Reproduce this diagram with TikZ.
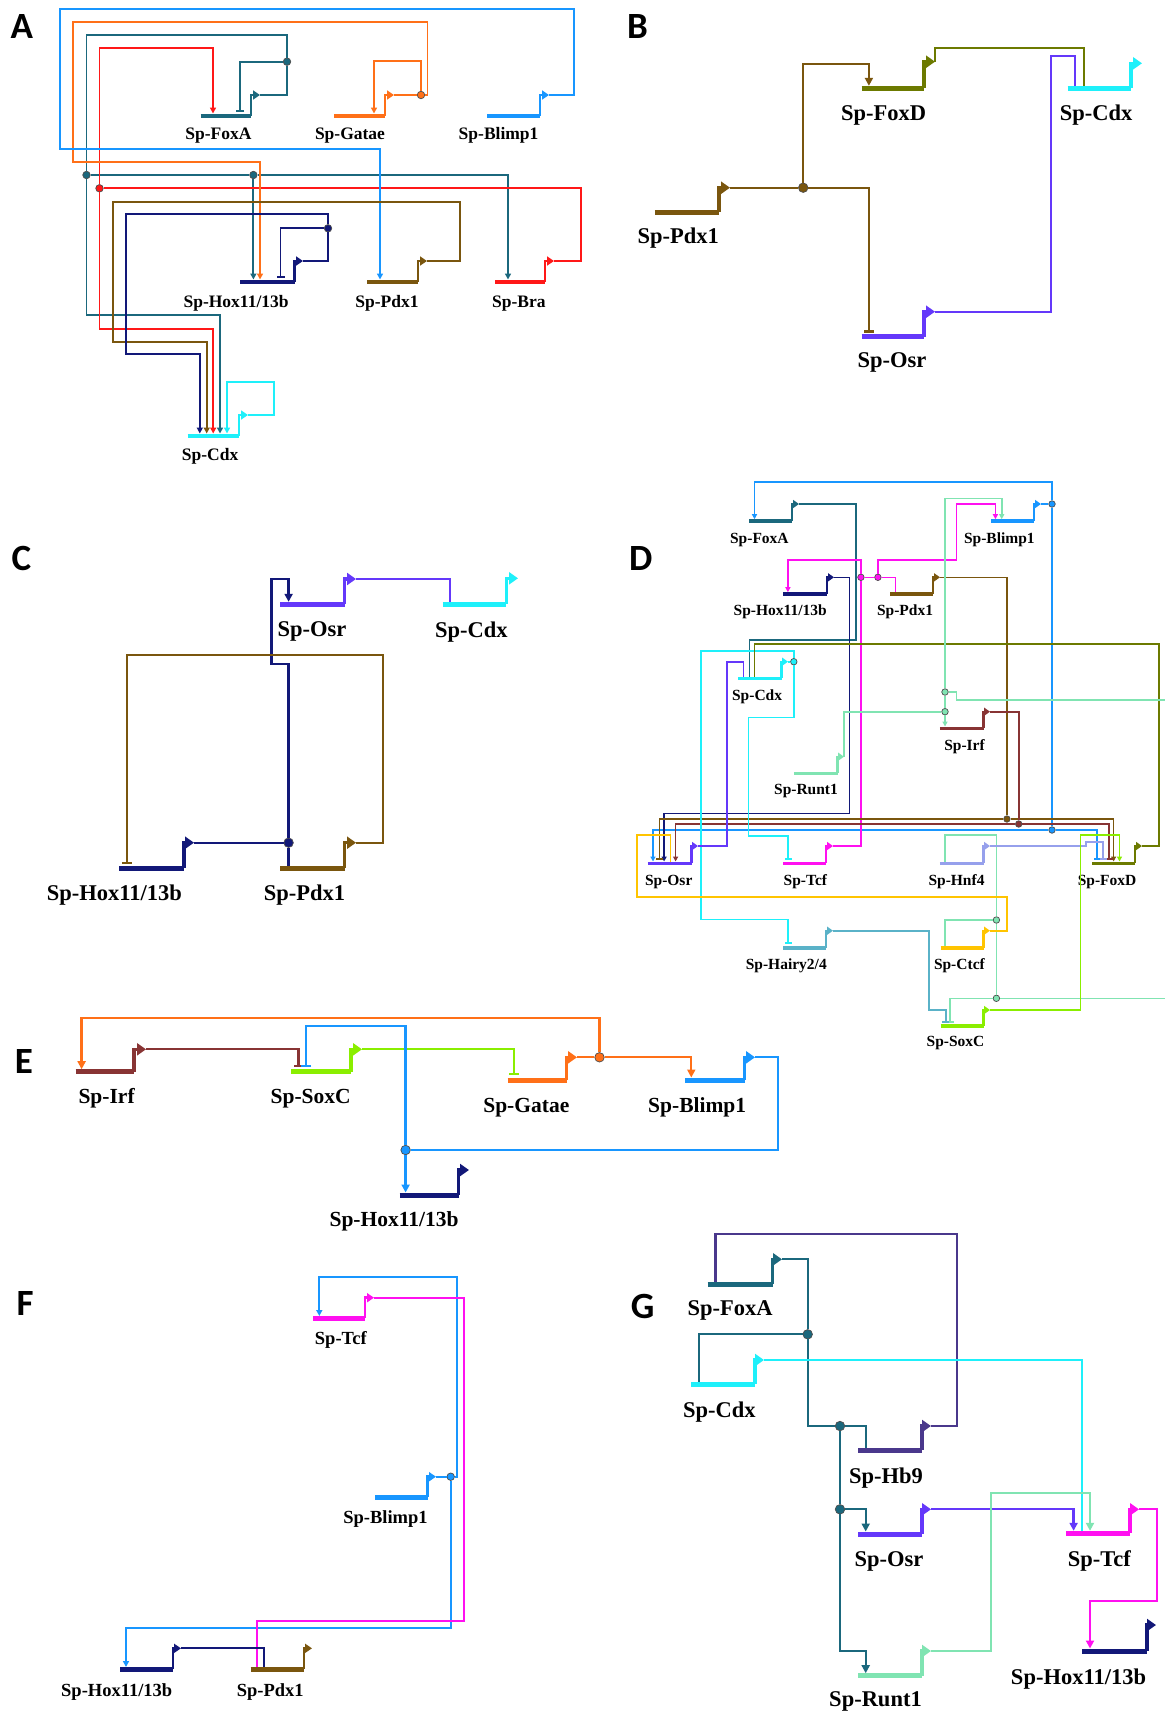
\documentclass[tikz,border=0pt]{standalone}
\usepackage{fontspec}
\setmainfont{Liberation Serif}
\newfontfamily\panelfont{Carlito}
\usetikzlibrary{arrows.meta,calc,positioning}

\definecolor{cFoxA}{RGB}{27,104,125}
\definecolor{cGatae}{RGB}{255,112,24}
\definecolor{cBlimp}{RGB}{24,150,255}
\definecolor{cHox}{RGB}{18,24,120}
\definecolor{cPdx}{RGB}{122,86,14}
\definecolor{cBra}{RGB}{255,24,24}
\definecolor{cCdx}{RGB}{30,240,250}
\definecolor{cFoxD}{RGB}{108,122,0}
\definecolor{cOsr}{RGB}{100,56,250}
\definecolor{cTcf}{RGB}{255,16,240}
\definecolor{cRunt}{RGB}{128,228,178}
\definecolor{cIrf}{RGB}{136,52,52}
\definecolor{cHnf}{RGB}{150,160,236}
\definecolor{cCtcf}{RGB}{255,196,0}
\definecolor{cHairy}{RGB}{90,178,200}
\definecolor{cSoxC}{RGB}{138,238,0}
\definecolor{cHb}{RGB}{74,56,140}

\tikzset{
  bar/.style={line width=4.2pt},
  prom/.style={line width=2.8pt,line join=miter,-{Triangle[length=7pt,width=9pt]}},
  link/.style={line width=1.9pt},
  act/.style={-{Triangle[length=6pt,width=6pt]}},
  rep/.style={-{Bar[width=8pt]}},
  dot/.style={circle,fill=#1,draw=black!70,line width=0.7pt,inner sep=0pt,minimum size=7.5pt},
  lab/.style={font=\bfseries\fontsize{17.5}{18}\selectfont,inner sep=0pt},
  panel/.style={font=\panelfont\bfseries\fontsize{37}{37}\selectfont,inner sep=0pt},
  big/.style={
    bar/.append style={line width=5pt},
    prom/.append style={line width=3.4pt,-{Triangle[length=9pt,width=12pt]}},
    link/.append style={line width=2.3pt},
    act/.append style={-{Triangle[length=8pt,width=8pt]}},
    rep/.append style={-{Bar[width=10pt]}},
    dot/.append style={minimum size=9.5pt}},
  small/.style={
    bar/.append style={line width=3.6pt},
    prom/.append style={line width=2.4pt,-{Triangle[length=6pt,width=8pt]}},
    link/.append style={line width=1.6pt},
    act/.append style={-{Triangle[length=5pt,width=5pt]}},
    rep/.append style={-{Bar[width=7pt]}},
    dot/.append style={minimum size=6.5pt}},
}

% gene: name, colour, bar left, bar right, bar y, promoter top, arrow tip x, label, label centre
\newcommand{\gene}[9]{%
  \draw[bar,#2] (#3,#5) -- (#4,#5);
  \draw[prom,#2] (#4,#5) -- (#4,#6) -- (#7,#6) coordinate (#1-out);
  \node[lab] (#1) at (#9) {#8};
}

\begin{document}
\begin{tikzpicture}[x=1pt,y=-1pt]
\useasboundingbox (0,0) rectangle (1165,1716);
\fill[white] (0,0) rectangle (1165,1716);

% panel A
\begin{scope}
\node[panel] (A) at (21.8,26.7) {A};
\gene{a-foxa}{cFoxA}{200.5}{251}{115.7}{95}{260}{Sp-FoxA}{218.5,135.7}
\gene{a-gatae}{cGatae}{334}{385}{115.7}{95}{394}{Sp-Gatae}{350,135.7}
\gene{a-blimp}{cBlimp}{487}{540}{115.7}{95}{549}{Sp-Blimp1}{498.6,135.7}
\gene{a-hox}{cHox}{240}{294.5}{281.7}{261}{303}{Sp-Hox11/13b}{236.1,303.3}
\gene{a-pdx}{cPdx}{367}{418}{281.7}{261}{427}{Sp-Pdx1}{386.9,303.3}
\gene{a-bra}{cBra}{495}{545}{281.7}{261}{554}{Sp-Bra}{518.8,303.3}
\gene{a-cdx}{cCdx}{187.5}{239}{435.7}{415}{248}{Sp-Cdx}{210.1,456.7}
\node[dot=cFoxA] (a-j1) at (287,61.7) {};
\node[dot=cFoxA] (a-j2) at (86.5,175) {};
\node[dot=cFoxA] (a-j3) at (253.4,175) {};
\node[dot=cBra] (a-j4) at (99.5,188.3) {};
\node[dot=cGatae] (a-j5) at (421,95) {};
\node[dot=cHox] (a-j6) at (328,228.3) {};
\draw[link,cFoxA] (a-foxa-out) -| (a-j1);
\draw[link,cFoxA,rep] (a-j1) -| (240,111.5);
\draw[link,cFoxA] (a-j1) |- (86.5,35) -- (a-j2);
\draw[link,cFoxA] (a-j2) -- (a-j3);
\draw[link,cFoxA,act] (a-j3) -- (253.4,279.5);
\draw[link,cFoxA,act] (a-j3) -| (508,279.5);
\draw[link,cFoxA,act] (a-j2) |- (220,315) -- (220,433.5);
\draw[link,cBra] (a-bra-out) -| (581,188.3) -- (a-j4);
\draw[link,cBra,act] (a-j4) |- (213,48.3) -- (213,113.5);
\draw[link,cBra,act] (a-j4) |- (213.2,329) -- (213.2,433.5);
\draw[link,cGatae] (a-gatae-out) -- (a-j5);
\draw[link,cGatae,act] (a-j5) |- (374,61) -- (374,113.5);
\draw[link,cGatae,act] (a-j5) -| (427.5,21.7) -| (72.7,162.3) -| (260,279.5);
\draw[link,cBlimp,act] (a-blimp-out) -| (574,9) -| (60,149) -| (380,279.5);
\draw[link,cPdx,act] (a-pdx-out) -| (460,201.7) -| (113,342.3) -| (206.7,433.5);
\draw[link,cHox] (a-hox-out) -| (a-j6);
\draw[link,cHox,rep] (a-j6) -| (280.5,278);
\draw[link,cHox,act] (a-j6) |- (126.3,214.3) |- (199.8,354.3) -- (199.8,433.5);
\draw[link,cCdx,act] (a-cdx-out) -| (273.6,382.3) -| (227,433.5);
\end{scope}

% panel B
\begin{scope}[big,lab/.append style={font=\bfseries\fontsize{22.5}{23}\selectfont}]
\node[panel] (B) at (637.4,26.7) {B};
\gene{b-foxd}{cFoxD}{861.6}{924}{88.3}{61.7}{935}{Sp-FoxD}{883.7,115}
\gene{b-cdx}{cCdx}{1067.7}{1131}{88.3}{63.3}{1142}{Sp-Cdx}{1096.2,115}
\gene{b-pdx}{cPdx}{654.8}{719}{212.3}{187.7}{730}{Sp-Pdx1}{678.2,238.3}
\gene{b-osr}{cOsr}{861.6}{924}{336.7}{311.7}{935}{Sp-Osr}{892,362.7}
\node[dot=cPdx] (b-j1) at (803.2,187.7) {};
\draw[link,cPdx] (b-pdx-out) -- (b-j1);
\draw[link,cPdx,act] (b-j1) |- (868.9,64) -- (868.9,85.8);
\draw[link,cPdx,rep] (b-j1) -| (868.9,332.5);
\draw[link,cFoxD] (b-foxd-out) |- (1084,47.7) -- (1084,86);
\draw[link,cOsr] (b-osr-out) -| (1051,55.7) -| (1075.3,86);
\end{scope}

% panel C
\begin{scope}[big,lab/.append style={font=\bfseries\fontsize{22.5}{23}\selectfont}]
\node[panel] (C) at (21.4,558.3) {C};
\gene{c-osr}{cOsr}{280.4}{344.6}{604.3}{579}{356}{Sp-Osr}{312,631.7}
\gene{c-cdx}{cCdx}{442.9}{506.4}{604.3}{578.3}{518}{Sp-Cdx}{471.4,631.7}
\gene{c-hox}{cHox}{119}{184}{868.3}{842.7}{194}{Sp-Hox11/13b}{114.3,895}
\gene{c-pdx}{cPdx}{280.4}{344.6}{868.3}{842.7}{356}{Sp-Pdx1}{304.5,895}
\node[dot=cHox] (c-j1) at (288.6,842.7) {};
\draw[link,cOsr] (c-osr-out) -| (450,602);
\draw[link,cHox] (c-hox-out) -- (c-j1);
\draw[link,cHox] (c-j1) -- (288.6,866);
\draw[link,cHox,act] (c-j1) |- (271.4,664) |- (288.6,579) -- (288.6,601.8);
\draw[link,cPdx,rep] (c-pdx-out) -| (382.9,655) -| (126.8,864);
\end{scope}

% panel D
\begin{scope}[small,lab/.append style={font=\bfseries\fontsize{15.5}{16}\selectfont}]
\node[panel] (D) at (640.9,558.3) {D};
\gene{d-foxa}{cFoxA}{749.3}{792}{521}{504}{799}{Sp-FoxA}{759.4,540}
\gene{d-blimp}{cBlimp}{991.2}{1034}{521}{504}{1041}{Sp-Blimp1}{999.4,540}
\gene{d-hox}{cHox}{783.4}{827}{594}{577.3}{834}{Sp-Hox11/13b}{780.2,611.7}
\gene{d-pdx}{cPdx}{890.4}{933}{594}{577.3}{940}{Sp-Pdx1}{905,611.7}
\gene{d-cdx}{cCdx}{738.2}{781.5}{678.3}{661.7}{788}{Sp-Cdx}{757.1,696.7}
\gene{d-irf}{cIrf}{939.8}{983.5}{728.3}{711.7}{990}{Sp-Irf}{964.5,746.7}
\gene{d-runt}{cRunt}{793.8}{837.5}{773.3}{756.7}{844}{Sp-Runt1}{806,790.7}
\gene{d-osr}{cOsr}{647.8}{691.5}{863.3}{846}{698}{Sp-Osr}{668.7,881.7}
\gene{d-tcf}{cTcf}{783.4}{826}{863.3}{846}{833}{Sp-Tcf}{805.4,881.7}
\gene{d-hnf}{cHnf}{939.8}{983.5}{863.3}{846}{990}{Sp-Hnf4}{956.5,881.7}
\gene{d-foxd}{cFoxD}{1092}{1135}{863.3}{846}{1142}{Sp-FoxD}{1107.1,881.7}
\gene{d-hairy}{cHairy}{783.4}{826}{947.7}{930.7}{833}{Sp-Hairy2/4}{786.3,966}
\gene{d-ctcf}{cCtcf}{940.5}{983.5}{947.7}{930.7}{990}{Sp-Ctcf}{959.4,966}
\gene{d-soxc}{cSoxC}{940.5}{983.5}{1026}{1010}{990}{Sp-SoxC}{955.5,1043.3}
\node[dot=cBlimp] (d-jb1) at (1052,504) {};
\node[dot=cBlimp] (d-jb2) at (1052,830) {};
\node[dot=cTcf] (d-jm1) at (860.9,577.3) {};
\node[dot=cTcf] (d-jm2) at (877.9,577.3) {};
\node[dot=cPdx] (d-jp) at (1006.9,819) {};
\node[dot=cIrf] (d-ji) at (1018.7,824) {};
\node[dot=cCdx] (d-jc) at (793.8,661.7) {};
\node[dot=cRunt] (d-jr1) at (945,711.7) {};
\node[dot=cRunt] (d-jr2) at (945,692) {};
\node[dot=cRunt] (d-jr3) at (996.4,998.3) {};
\node[dot=cRunt] (d-jr4) at (996.4,920) {};
\coordinate (d-east1) at (1165,700);
\coordinate (d-east2) at (1165,998.3);
\draw[link,cBlimp] (d-blimp-out) -- (d-jb1);
\draw[link,cBlimp,act] (d-jb1) |- (754.5,481.7) -- (754.5,519.2);
\draw[link,cBlimp] (d-jb1) -- (d-jb2);
\draw[link,cBlimp,act] (d-jb2) -| (653,861.5);
\draw[link,cBlimp,rep] (d-jb2) -| (1097,859.5);
\draw[link,cFoxA] (d-foxa-out) -| (855.7,640) -| (749.3,676.5);
\draw[link,cHox,act] (d-hox-out) -| (849.4,813.3) -| (664.1,861.5);
\draw[link,cTcf] (d-tcf-out) -| (d-jm1);
\draw[link,cTcf,act] (d-jm1) |- (787.9,560) -- (787.9,592.2);
\draw[link,cTcf] (d-jm1) -- (d-jm2);
\draw[link,cTcf,act] (d-jm2) |- (956.5,560) |- (995.4,504) -- (995.4,519.2);
\draw[link,cTcf] (d-jm2) -| (895.6,592.2);
\draw[link,cPdx] (d-pdx-out) -| (d-jp);
\draw[link,cPdx,rep] (d-jp) -| (659.3,859.5);
\draw[link,cPdx,act] (d-jp) -| (1113.6,861.5);
\draw[link,cIrf] (d-irf-out) -| (d-ji);
\draw[link,cIrf,act] (d-ji) -| (675.6,861.5);
\draw[link,cIrf,rep] (d-ji) -| (1109,859.5);
\draw[link,cCdx] (d-cdx-out) -- (d-jc);
\draw[link,cCdx,rep] (d-jc) |- (701,650.7) |- (788.2,919.3) -- (788.2,944);
\draw[link,cCdx,rep] (d-jc) |- (748.6,717.3) |- (788.2,836) -- (788.2,859.5);
\draw[link,cOsr] (d-osr-out) -| (726.7,661.7) -| (743.4,676.5);
\draw[link,cFoxD] (d-foxd-out) -| (1158.8,644) -| (754.5,676.5);
\draw[link,cRunt] (d-runt-out) |- (d-jr1);
\draw[link,cRunt,act] (d-jr1) -- (945,726.5);
\draw[link,cRunt] (d-jr1) -- (d-jr2);
\draw[link,cRunt,act] (d-jr2) |- (1001.7,498.3) -- (1001.7,519.2);
\draw[link,cRunt] (d-jr2) -| (956.5,700) -- (d-east1);
\draw[link,cRunt] (d-east2) -- (d-jr3);
\draw[link,cRunt,rep] (d-jr3) -| (950.2,1022.5);
\draw[link,cRunt] (d-jr3) -- (d-jr4);
\draw[link,cRunt] (d-jr4) -| (945,946);
\draw[link,cRunt] (d-jr4) |- (945,835) -- (945,861.5);
\draw[link,cHnf,rep] (d-hnf-out) -| (1085.8,841.7) -| (1103.1,859.5);
\draw[link,cSoxC,act] (d-soxc-out) -| (1080.6,835) -| (1119.5,861.5);
\draw[link,cCtcf] (d-ctcf-out) -| (1006.9,896.7) -| (636.7,835) -| (670.4,861.5);
\draw[link,cHairy,rep] (d-hairy-out) -| (928.7,1010) -| (945.7,1022.5);
\end{scope}

% panel E
\begin{scope}[big,lab/.append style={font=\bfseries\fontsize{21.5}{22}\selectfont}]
\node[panel] (E) at (24,1061.7) {E};
\gene{e-irf}{cIrf}{75.5}{134}{1071.7}{1049.3}{146}{Sp-Irf}{106.6,1098.3}
\gene{e-soxc}{cSoxC}{290.8}{351}{1071.7}{1049.3}{362}{Sp-SoxC}{310.7,1098.3}
\gene{e-gatae}{cGatae}{507.7}{566.5}{1080}{1057.3}{577}{Sp-Gatae}{526.3,1107.3}
\gene{e-blimp}{cBlimp}{685.2}{744.5}{1080}{1057.3}{755}{Sp-Blimp1}{697.2,1107.3}
\gene{e-hox}{cHox}{399.5}{458.5}{1195}{1170}{469}{Sp-Hox11/13b}{394.1,1221.7}
\node[dot=cGatae] (e-jg) at (599.5,1057.3) {};
\node[dot=cBlimp] (e-jb) at (405.6,1150) {};
\draw[link,cIrf,rep] (e-irf-out) -| (298.5,1067);
\draw[link,cSoxC,rep] (e-soxc-out) -| (513.8,1075.3);
\draw[link,cGatae] (e-gatae-out) -- (e-jg);
\draw[link,cGatae,act] (e-jg) |- (81.6,1018.3) -- (81.6,1069.2);
\draw[link,cGatae,act] (e-jg) -| (691.3,1077.5);
\draw[link,cBlimp] (e-blimp-out) -| (778,1150) -- (e-jb);
\draw[link,cBlimp,rep] (e-jb) |- (306.1,1026) -- (306.1,1067);
\draw[link,cBlimp,act] (e-jb) -- (405.6,1192.5);
\end{scope}

% panel F
\begin{scope}[lab/.append style={font=\bfseries\fontsize{18.5}{19}\selectfont},bar/.append style={line width=4.6pt},link/.append style={line width=2pt}]
\node[panel] (F) at (25,1303.3) {F};
\gene{f-tcf}{cTcf}{313.3}{365}{1318.3}{1297.7}{374}{Sp-Tcf}{340.8,1340}
\gene{f-blimp}{cBlimp}{375}{427.5}{1497.3}{1476.7}{436}{Sp-Blimp1}{385.5,1519.3}
\gene{f-hox}{cHox}{120}{173}{1669.3}{1648.3}{181}{Sp-Hox11/13b}{116.7,1691.7}
\gene{f-pdx}{cPdx}{250.7}{304}{1669.3}{1648.3}{312}{Sp-Pdx1}{270.3,1691.7}
\node[dot=cBlimp] (f-jb) at (450.7,1476.7) {};
\draw[link,cBlimp] (f-blimp-out) -- (f-jb);
\draw[link,cBlimp,act] (f-jb) -- (457.3,1476.7) |- (319.3,1276.7) -- (319.3,1316);
\draw[link,cBlimp,act] (f-jb) |- (126,1628.3) -- (126,1667);
\draw[link,cTcf] (f-tcf-out) -| (464.3,1620.7) -| (257.3,1667);
\draw[link,cHox] (f-hox-out) -| (264.3,1667);
\end{scope}

% panel G
\begin{scope}[big,lab/.append style={font=\bfseries\fontsize{22.5}{23}\selectfont}]
\node[panel] (G) at (642.6,1306) {G};
\gene{g-foxa}{cFoxA}{707.6}{772.5}{1284.3}{1259.3}{782}{Sp-FoxA}{730.2,1310.7}
\gene{g-cdx}{cCdx}{691.3}{755}{1384.3}{1360}{764}{Sp-Cdx}{719.4,1411.7}
\gene{g-hb}{cHb}{858.1}{922}{1450}{1426}{931}{Sp-Hb9}{885.9,1477.7}
\gene{g-osr}{cOsr}{858.1}{922}{1534}{1509.3}{931}{Sp-Osr}{888.9,1561}
\gene{g-tcf}{cTcf}{1066}{1130}{1533.3}{1509.3}{1139}{Sp-Tcf}{1099.3,1561}
\gene{g-runt}{cRunt}{858.1}{922}{1675.7}{1651}{931}{Sp-Runt1}{875.5,1701.7}
\gene{g-hox}{cHox}{1082.3}{1147}{1651}{1625}{1156}{Sp-Hox11/13b}{1078.5,1679}
\node[dot=cFoxA] (g-j1) at (807.7,1334.3) {};
\node[dot=cFoxA] (g-j2) at (840,1426) {};
\node[dot=cFoxA] (g-j3) at (840,1509.3) {};
\draw[link,cFoxA] (g-foxa-out) -| (g-j1);
\draw[link,cFoxA] (g-j1) -| (699.2,1382);
\draw[link,cFoxA] (g-j1) |- (g-j2);
\draw[link,cFoxA] (g-j2) -| (865.7,1447.5);
\draw[link,cFoxA] (g-j2) -- (g-j3);
\draw[link,cFoxA,act] (g-j3) -| (865.7,1531.5);
\draw[link,cFoxA,act] (g-j3) |- (865.7,1651) -- (865.7,1673.2);
\draw[link,cHb] (g-hb-out) -| (957.2,1234) -| (715.6,1282);
\draw[link,cCdx] (g-cdx-out) -| (1082.3,1531);
\draw[link,cOsr,act] (g-osr-out) -| (1073.6,1530.8);
\draw[link,cRunt,act] (g-runt-out) -| (990.9,1492.7) -| (1090,1530.8);
\draw[link,cTcf,act] (g-tcf-out) -| (1157,1601) -| (1090,1648.5);
\end{scope}
\end{tikzpicture}
\end{document}
